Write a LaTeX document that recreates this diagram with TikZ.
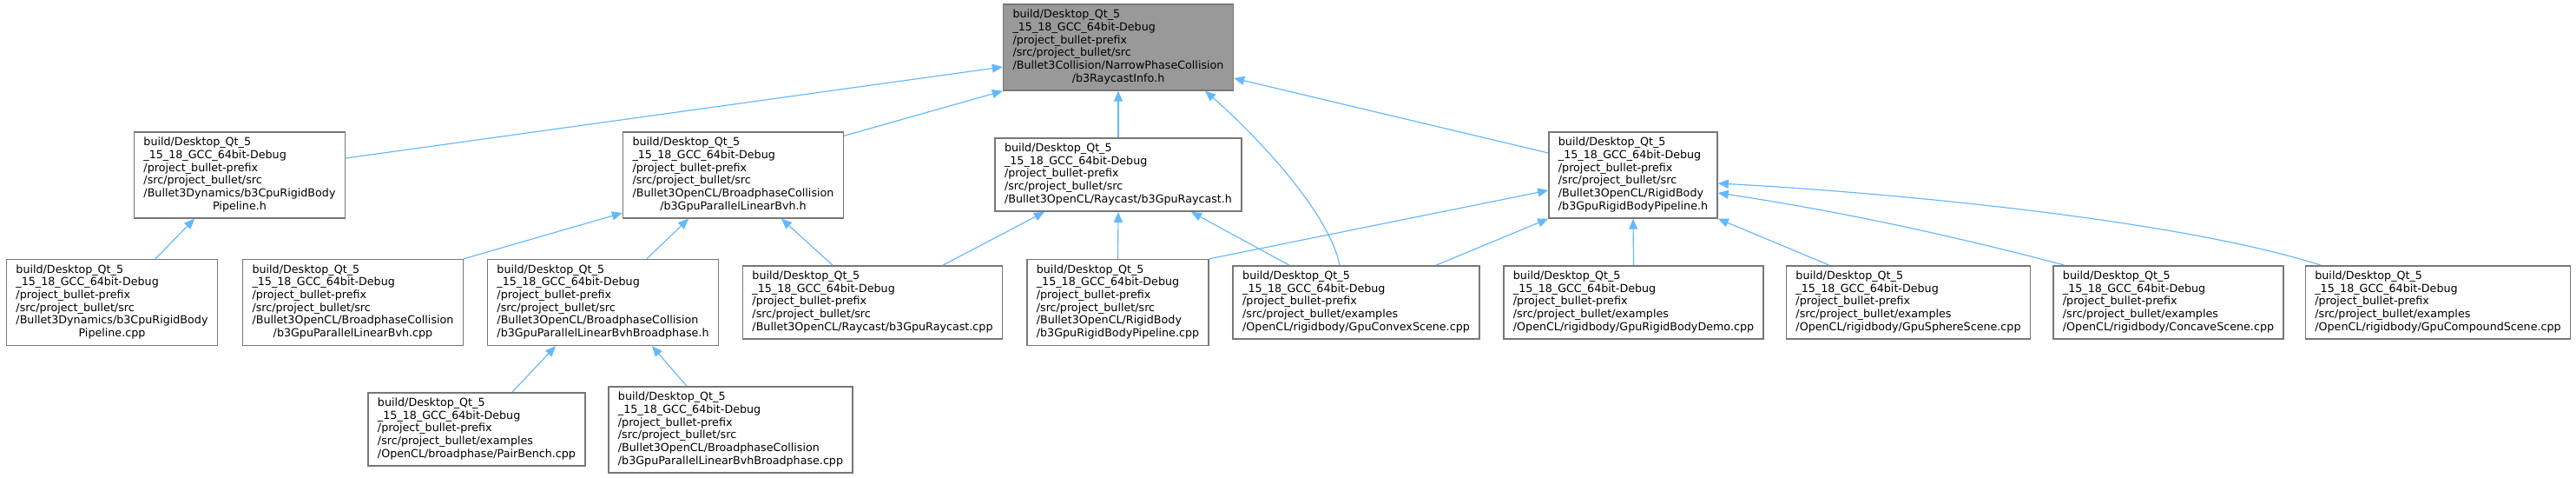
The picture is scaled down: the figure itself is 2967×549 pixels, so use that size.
\documentclass[tikz,border=0pt]{standalone}
\usepackage{fontspec}
\setmainfont{DejaVu Sans}
\usetikzlibrary{arrows.meta,calc}
\definecolor{edgeblue}{HTML}{63B8FF}
\definecolor{boxborder}{HTML}{777777}
\definecolor{rootfill}{HTML}{999999}
\newcommand\nlbl[2]{\begin{tabular}{@{}l@{}}#1\\\multicolumn{1}{@{}c@{}}{#2}\end{tabular}}
\newcommand\pfx{build/Desktop\_Qt\_5\\\_15\_18\_GCC\_64bit-Debug\\/project\_bullet-prefix}
\begin{document}
\begin{tikzpicture}[x=1pt,y=-1pt,
  box/.style={draw=boxborder, line width=1.4pt, fill=white, inner xsep=11pt, inner ysep=5.4pt,
    font=\fontsize{12.7}{14.7}\selectfont},
  rootbox/.style={box, fill=rootfill},
  edge/.style={draw=edgeblue, line width=1.15pt, -{Triangle[length=12pt,width=10pt]}}]
\fill[white] (0,0) rectangle (2967,549);
\useasboundingbox (0,0) rectangle (2967,549);

\node[rootbox] (root) at (1288,54.5) {\nlbl{\pfx\\/src/project\_bullet/src\\/Bullet3Collision/NarrowPhaseCollision}{/b3RaycastInfo.h}};

\node[box] (cpuh) at (276,201.5) {\nlbl{\pfx\\/src/project\_bullet/src\\/Bullet3Dynamics/b3CpuRigidBody}{Pipeline.h}};
\node[box] (bvhh) at (844.5,201.5) {\nlbl{\pfx\\/src/project\_bullet/src\\/Bullet3OpenCL/BroadphaseCollision}{/b3GpuParallelLinearBvh.h}};
\node[box] (rayh) at (1288,201) {\nlbl{\pfx\\/src/project\_bullet/src}{/Bullet3OpenCL/Raycast/b3GpuRaycast.h}};
\node[box] (rbh) at (1881,201.5) {\nlbl{\pfx\\/src/project\_bullet/src\\/Bullet3OpenCL/RigidBody}{/b3GpuRigidBodyPipeline.h}};

\node[box] (cpucpp) at (129,348) {\nlbl{\pfx\\/src/project\_bullet/src\\/Bullet3Dynamics/b3CpuRigidBody}{Pipeline.cpp}};
\node[box] (bvhcpp) at (406.5,348) {\nlbl{\pfx\\/src/project\_bullet/src\\/Bullet3OpenCL/BroadphaseCollision}{/b3GpuParallelLinearBvh.cpp}};
\node[box] (bphh) at (694.5,348) {\nlbl{\pfx\\/src/project\_bullet/src\\/Bullet3OpenCL/BroadphaseCollision}{/b3GpuParallelLinearBvhBroadphase.h}};
\node[box] (raycpp) at (1005,348) {\nlbl{\pfx\\/src/project\_bullet/src}{/Bullet3OpenCL/Raycast/b3GpuRaycast.cpp}};
\node[box] (rbcpp) at (1287.5,348) {\nlbl{\pfx\\/src/project\_bullet/src\\/Bullet3OpenCL/RigidBody}{/b3GpuRigidBodyPipeline.cpp}};
\node[box] (convex) at (1562,348) {\nlbl{\pfx\\/src/project\_bullet/examples}{/OpenCL/rigidbody/GpuConvexScene.cpp}};
\node[box] (demo) at (1881.5,348) {\nlbl{\pfx\\/src/project\_bullet/examples}{/OpenCL/rigidbody/GpuRigidBodyDemo.cpp}};
\node[box] (sphere) at (2198,348) {\nlbl{\pfx\\/src/project\_bullet/examples}{/OpenCL/rigidbody/GpuSphereScene.cpp}};
\node[box] (concave) at (2497.5,348) {\nlbl{\pfx\\/src/project\_bullet/examples}{/OpenCL/rigidbody/ConcaveScene.cpp}};
\node[box] (compound) at (2808,348) {\nlbl{\pfx\\/src/project\_bullet/examples}{/OpenCL/rigidbody/GpuCompoundScene.cpp}};

\node[box] (pairbench) at (549,494) {\nlbl{\pfx\\/src/project\_bullet/examples}{/OpenCL/broadphase/PairBench.cpp}};
\node[box] (bphcpp) at (841.5,494.5) {\nlbl{\pfx\\/src/project\_bullet/src\\/Bullet3OpenCL/BroadphaseCollision}{/b3GpuParallelLinearBvhBroadphase.cpp}};

\draw[edge] ($(cpuh.east)+(0,-19.5)$) -- ($(root.west)+(0,22.5)$);
\draw[edge] ($(bvhh.north east)+(0,5)$) -- (root.south west);
\draw[edge] (rayh.north) -- (root.south);
\draw[edge] ($(rbh.west)+(0,-25.5)$) -- ($(root.east)+(0,35.5)$);
\draw[edge] ($(convex.north)+(-19,0)$) .. controls (1530,240) and (1435,145) .. ($(root.south)+(100,0)$);
\draw[edge] ($(cpucpp.north)+(50,0)$) -- ($(cpuh.south)+(-52,0)$);
\draw[edge] (bvhcpp.north east) -- ($(bvhh.west)+(0,43.5)$);
\draw[edge] ($(bphh.north)+(50.5,0)$) -- ($(bvhh.south)+(-51.5,0)$);
\draw[edge] ($(raycpp.north)+(-46,0)$) -- ($(bvhh.south)+(55.5,0)$);
\draw[edge] ($(raycpp.north)+(81,0)$) -- ($(rayh.south)+(-85,0)$);
\draw[edge] (rbcpp.north) -- (rayh.south);
\draw[edge] ($(convex.north)+(-77,0)$) -- ($(rayh.south)+(84,0)$);
\draw[edge] (rbcpp.north east) -- ($(rbh.west)+(0,17.5)$);
\draw[edge] ($(convex.north)+(92,0)$) -- (rbh.south west);
\draw[edge] (demo.north) -- (rbh.south);
\draw[edge] ($(sphere.north)+(-91,0)$) -- (rbh.south east);
\draw[edge] ($(concave.north)+(-119.5,0)$) .. controls (2245,270) and (2113,242) .. ($(rbh.east)+(0,20.5)$);
\draw[edge] ($(compound.north)+(-135,0)$) .. controls (2500,250) and (2150,220) .. ($(rbh.east)+(0,9.5)$);
\draw[edge] ($(pairbench.north)+(41,0)$) -- ($(bphh.south)+(-54.5,0)$);
\draw[edge] ($(bphcpp.north)+(-50.5,0)$) -- ($(bphh.south)+(56.5,0)$);
\end{tikzpicture}
\end{document}
